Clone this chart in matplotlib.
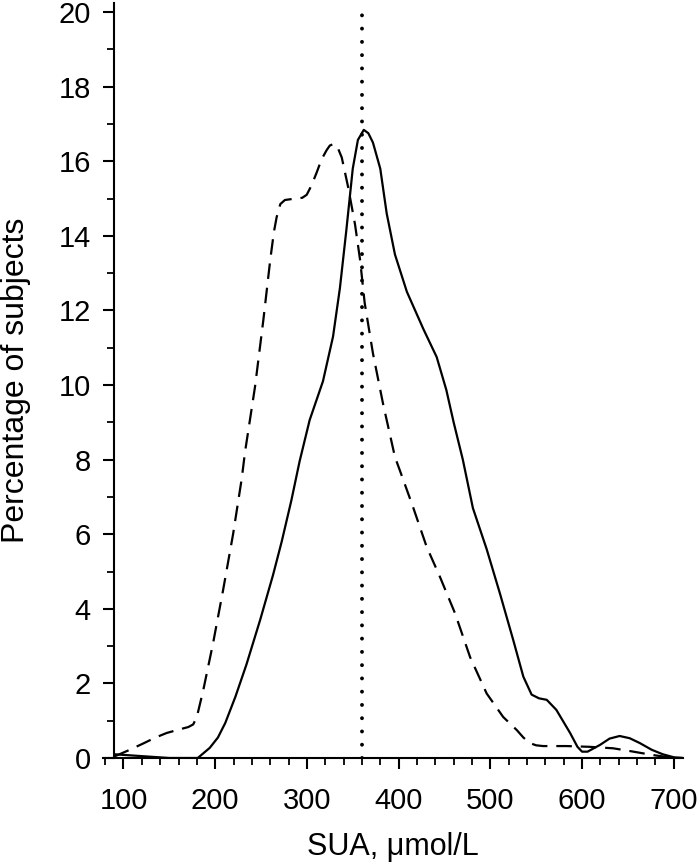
# Distribution of serum uric acid (SUA), two groups
import matplotlib.pyplot as plt
from matplotlib.ticker import MultipleLocator

plt.rcParams['font.family'] = ['Liberation Sans', 'DejaVu Sans']

# solid curve
sua_solid = [90, 120, 150, 181, 194, 203, 211, 222, 234, 249, 263, 272.5, 283, 292,
             303, 317.5, 328.5, 336, 343, 350, 355.6, 362, 367, 372, 380, 387, 396,
             409, 427, 441.5, 452, 460, 470, 481, 496, 510.6, 525, 536, 545, 553,
             561.5, 572, 587, 595, 600, 606, 612, 619.5, 630, 641, 652, 663, 676,
             688, 700, 710]
pct_solid = [0.10, 0.05, 0.0, 0.0, 0.27, 0.55, 0.94, 1.64, 2.5, 3.7, 4.9, 5.8, 6.9, 7.95,
             9.06, 10.1, 11.3, 12.6, 14.15, 15.8, 16.57, 16.84, 16.75, 16.5, 15.8, 14.6,
             13.5, 12.5, 11.5, 10.75, 9.87, 9.0, 8.0, 6.7, 5.6, 4.4, 3.16, 2.18, 1.7,
             1.6, 1.56, 1.29, 0.67, 0.3, 0.17, 0.17, 0.25, 0.35, 0.52, 0.59, 0.53, 0.4,
             0.22, 0.1, 0.02, 0.0]

# dashed curve
sua_dashed = [90, 105, 121.6, 135, 147, 160, 170.7, 176, 180, 187, 197.7, 208.6, 219.5,
              229, 232.5, 243.4, 252.5, 260, 264, 267, 271, 276, 282, 289, 295, 299.8,
              305, 310.7, 316, 321.6, 325, 328.8, 333, 338, 345, 352.5, 358, 363, 372,
              383, 396, 401.5, 415.7, 430.6, 445, 461.5, 478, 496, 514, 528.8, 536, 543,
              550, 557.5, 583, 608, 634, 656, 677, 700, 710]
pct_dashed = [0.04, 0.2, 0.39, 0.55, 0.67, 0.76, 0.83, 0.9, 1.1, 1.82, 3.08, 4.5, 6.0,
              7.5, 8.2, 9.95, 11.74, 13.35, 14.1, 14.5, 14.85, 14.96, 14.98, 15.0, 15.02,
              15.1, 15.35, 15.7, 16.05, 16.3, 16.42, 16.46, 16.4, 16.1, 15.3, 14.3, 13.35,
              12.2, 10.85, 9.5, 8.07, 7.7, 6.73, 5.66, 4.86, 3.88, 2.7, 1.73, 1.1, 0.75,
              0.55, 0.4, 0.34, 0.32, 0.32, 0.3, 0.26, 0.17, 0.08, 0.0, 0.0]

cutoff = 360

fig = plt.figure(figsize=(6.98, 8.65), dpi=100)
ax = fig.add_axes([0.148, 0.1237, 0.8304, 0.8732])

ax.plot(sua_solid, pct_solid, color='black', lw=1.6, solid_joinstyle='round')
ax.plot(sua_dashed, pct_dashed, color='black', lw=1.6, linestyle=(0, (7, 4)))
ax.axvline(cutoff, color='black', lw=2.8, linestyle=(0, (0.01, 3.4)),
           dash_capstyle='round')

ax.set_xlim(78, 710)
ax.set_ylim(0, 20.25)
ax.spines['top'].set_visible(False)
ax.spines['right'].set_visible(False)
ax.spines['left'].set_position(('data', 90))
ax.spines['left'].set_linewidth(1.5)
ax.spines['bottom'].set_linewidth(1.5)

ax.xaxis.set_major_locator(MultipleLocator(100))
ax.xaxis.set_minor_locator(MultipleLocator(20))
ax.yaxis.set_major_locator(MultipleLocator(2))
ax.yaxis.set_minor_locator(MultipleLocator(1))
ax.set_xticks(range(100, 701, 100))
ax.tick_params(which='major', direction='out', length=8, width=1.5, labelsize=21)
ax.tick_params(which='minor', direction='out', length=5, width=1.3)
ax.tick_params(axis='x', which='major', pad=13)
ax.tick_params(axis='y', which='major', pad=9)

ax.set_xlabel('SUA, μmol/L', fontsize=22, labelpad=12)
ax.set_ylabel('Percentage of subjects', fontsize=23, labelpad=20)

plt.savefig('out.png', dpi=100)
